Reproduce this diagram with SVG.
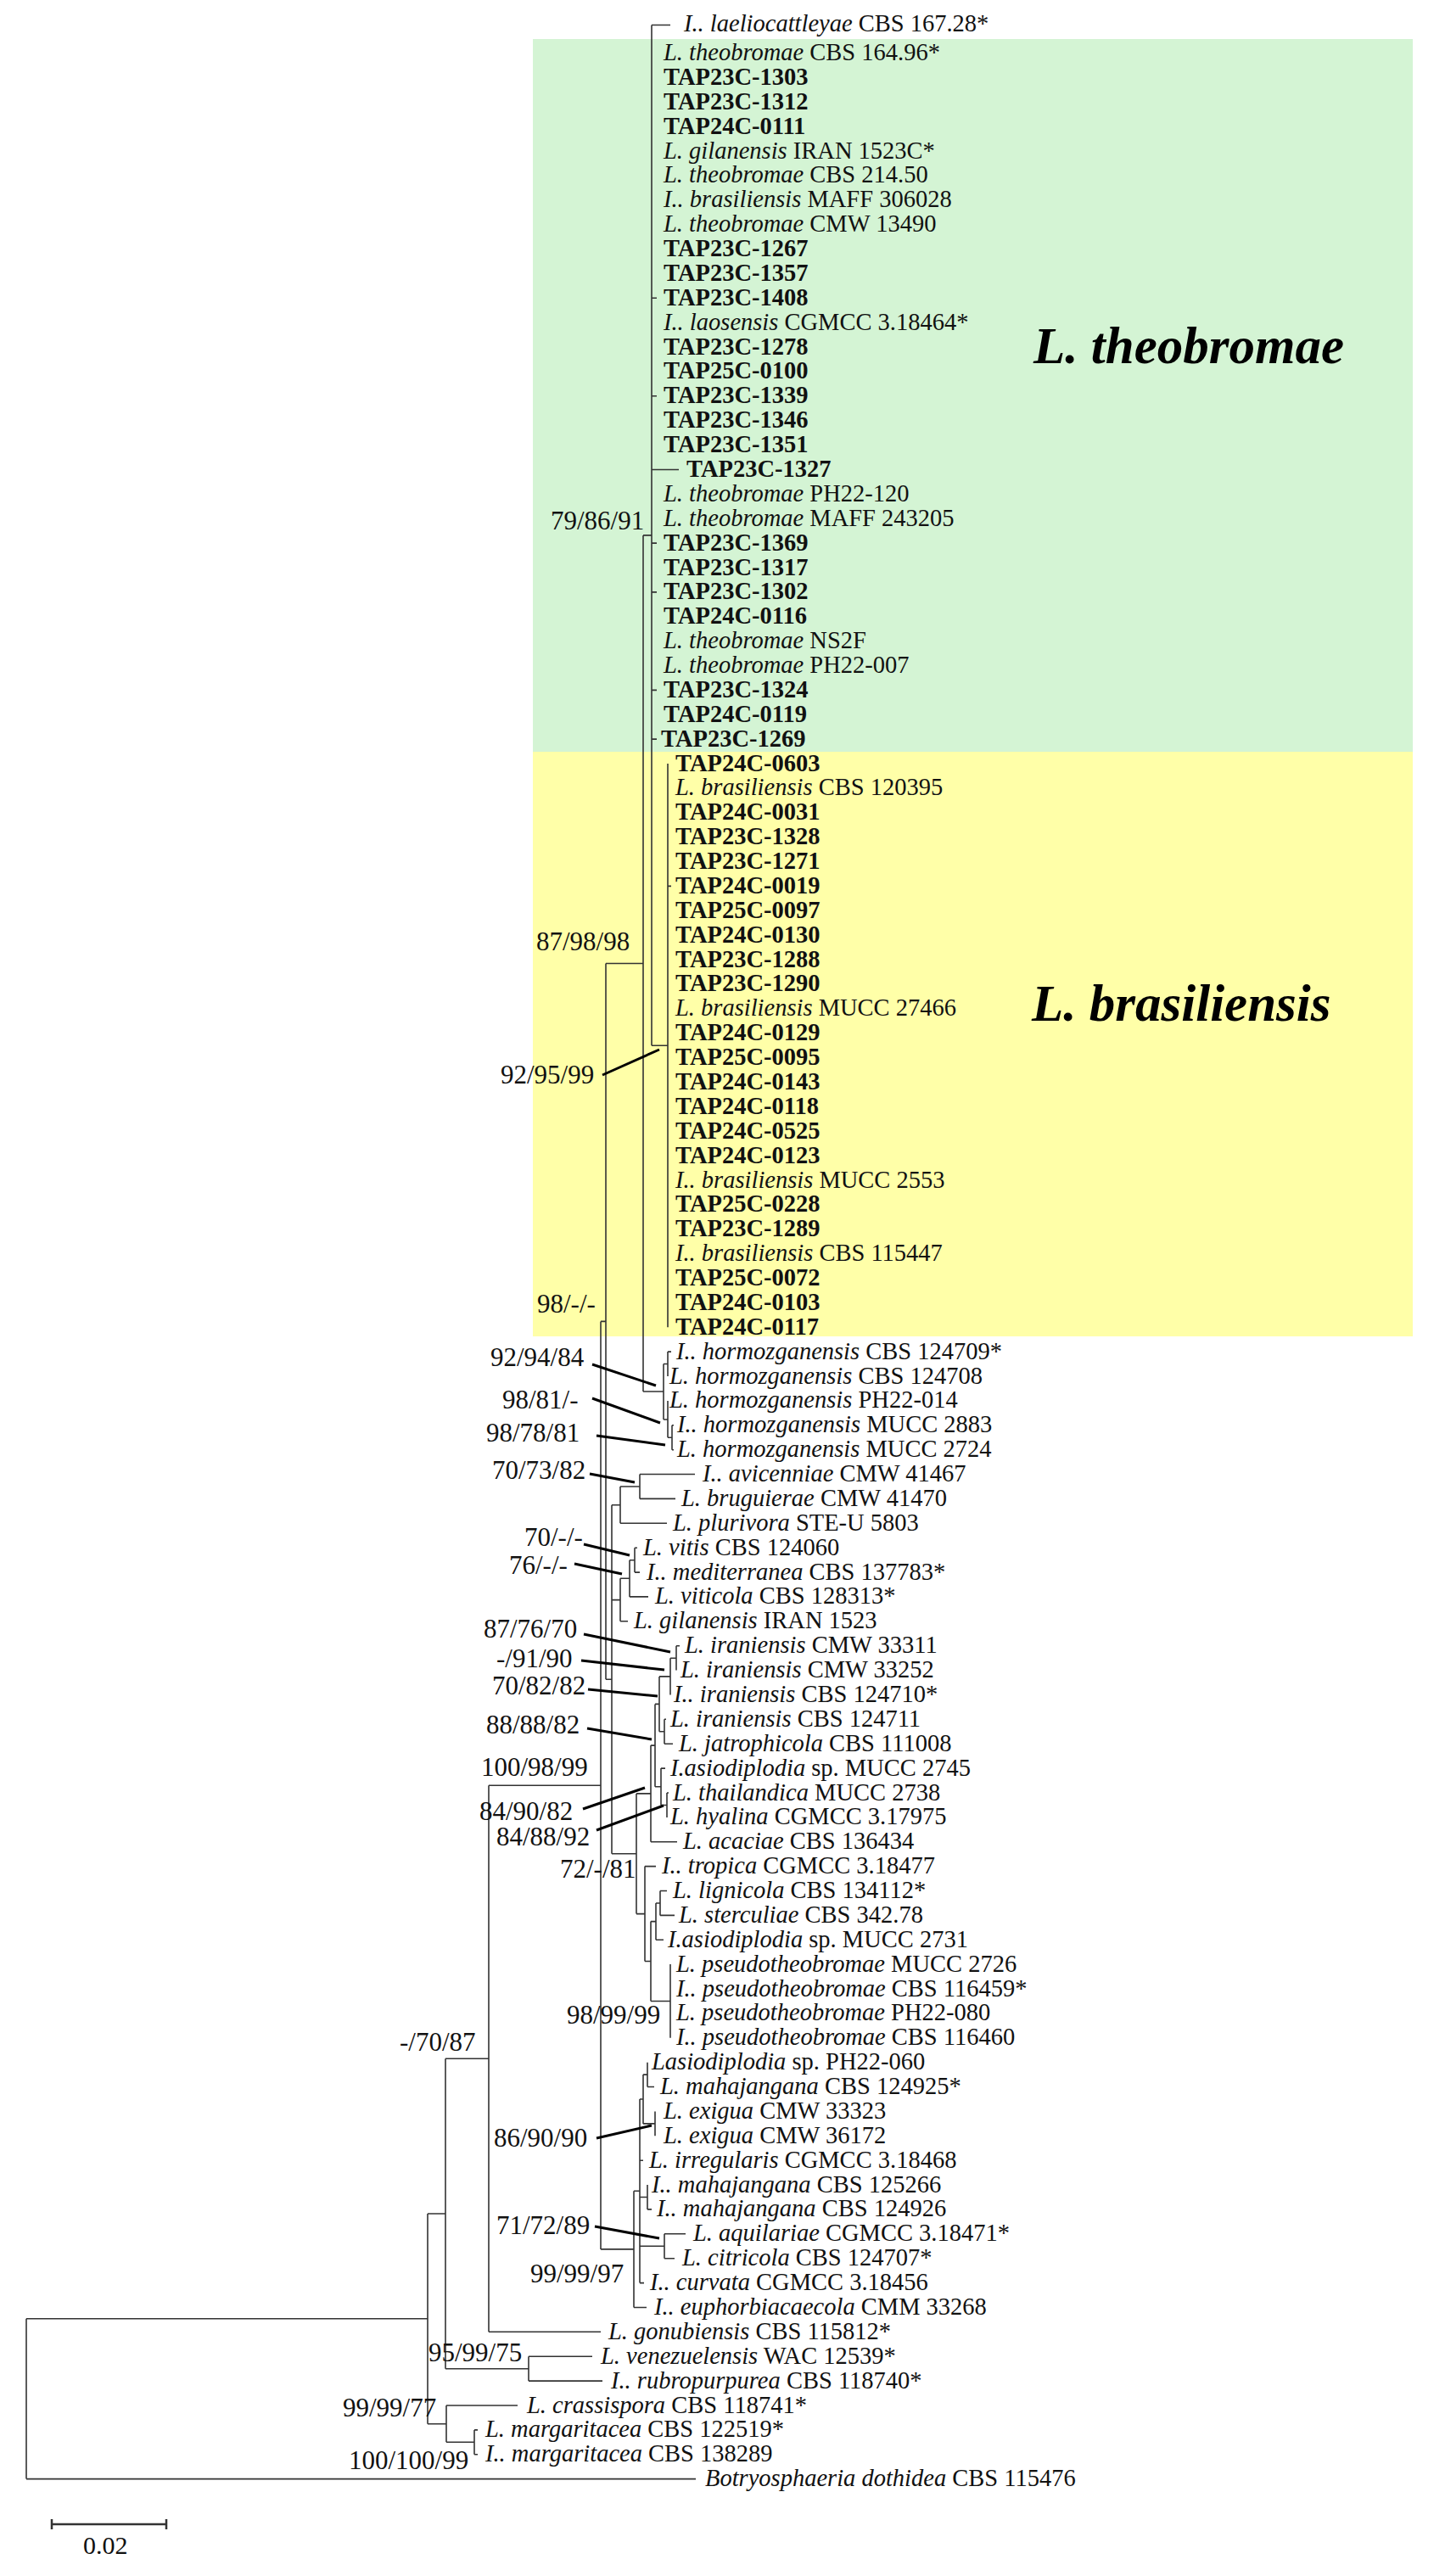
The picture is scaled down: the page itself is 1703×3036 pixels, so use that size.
<svg xmlns="http://www.w3.org/2000/svg" width="1703" height="3036" viewBox="0 0 1703 3036">
<style>
.t{font-family:"Liberation Serif","Times New Roman",serif;font-size:28.5px;fill:#111}
.b{font-weight:bold}
.i{font-style:italic}
.s{font-family:"Liberation Serif","Times New Roman",serif;font-size:31px;fill:#111}
.cl{font-family:"Liberation Serif","Times New Roman",serif;font-size:61px;font-weight:bold;font-style:italic;fill:#000}
.br{fill:none;stroke:#333;stroke-width:1.6}
.ld{fill:none;stroke:#000;stroke-width:3}
</style>
<rect width="1703" height="3036" fill="#fff"/>
<g id="clade-theobromae">
<rect x="628" y="46" width="1037" height="840" fill="#d4f4d4"/>
<text class="cl" x="1218" y="428">L. theobromae</text>
</g>
<g id="clade-brasiliensis">
<rect x="628" y="886" width="1037" height="689" fill="#ffffa8"/>
<text class="cl" x="1216" y="1203">L. brasiliensis</text>
</g>
<g id="connectors">
<path class="br" d="M768,29.5V1232.2 M768,29.5H790 M768,351.3H774 M768,466.8H774 M768,553.5H800 M768,640.1H774 M768,697.9H774 M768,813.4H774 M768,871.1H774 M768,1232.2H787 M787,900V1564.3 M787,1044.4H791 M758,630.9H768 M758,630.9V1640 M758,1640H782
M782,1607.5V1673 M782,1607.5H787 M787,1593.1V1622 M787,1593.1H791 M782,1673H787 M787,1650.9V1694.3 M787,1694.3H792 M792,1679.8V1708.7 M792,1679.8H794 M792,1708.7H794
M714,1135.5H758 M714,1135.5V1979.2 M709,1557.4H714 M714,1979.2H721
M754,1737.5V1766.4 M754,1737.5H819 M754,1766.4H796 M731,1752V1795.3 M731,1752H754 M731,1795.3H786
M748,1824.2V1853.1 M748,1824.2H751 M748,1853.1H754 M742,1838.7V1881.9 M742,1838.7H748 M742,1881.9H764 M731,1860.3V1910.8 M731,1860.3H742 M731,1910.8H740
M797,1939.7V1968.6 M797,1939.7H801 M790,1954.2V1997.5 M790,1954.2H797 M783,2026.3V2055.2 M783,2026.3H785 M783,2055.2H793 M777,1975.9V2040.8 M777,1975.9H790 M777,2040.8H783
M786,2113V2141.9 M786,2113H788 M779,2084.1V2127.5 M779,2084.1H784 M779,2127.5H786 M772,2008.4V2105.8 M772,2008.4H777 M772,2105.8H779 M767,2057.1V2170.7 M767,2057.1H772 M767,2170.7H798
M778,2228.5V2257.4 M778,2228.5H786 M778,2257.4H795 M773,2243V2286.3 M773,2243H778 M773,2286.3H782 M790,2315.1V2401.8 M767,2264.6V2358.5 M767,2264.6H773 M767,2358.5H790 M760,2199.6V2311.5 M760,2199.6H773 M760,2311.5H767 M750,2113.9V2255.6 M750,2113.9H767 M750,2255.6H760
M721,1773.7V2184.7 M721,1773.7H731 M721,1885.6H731 M721,2184.7H750
M763,2430.7V2459.5 M763,2459.5H771 M772,2488.4V2517.3 M758,2445.1V2502.9 M758,2445.1H763 M758,2502.9H772 M763,2575.1V2603.9 M763,2603.9H768 M783,2632.8V2661.7 M783,2632.8H808 M783,2661.7H795
M754,2474V2690.6 M754,2474H758 M754,2546.2H758 M754,2589.5H763 M754,2647.3H783 M754,2690.6H759 M747,2582.3V2719.5 M747,2582.3H754 M747,2719.5H762
M708,1557.4V2650.9 M708,1557.4H709 M708,2650.9H747 M576,2104.2V2748.3 M576,2104.2H708 M576,2748.3H708
M623,2777.2V2806.1 M623,2777.2H698 M623,2806.1H710 M525,2426.3V2791.7 M525,2426.3H576 M525,2791.7H623
M559,2863.9V2892.7 M559,2863.9H563 M559,2892.7H563 M526,2835V2878.3 M526,2835H610 M526,2878.3H559 M504,2609V2856.7 M504,2609H525 M504,2856.7H526
M31,2732.8V2921.6 M31,2732.8H504 M31,2921.6H820"/>
<path class="ld" d="M710,1267L777,1237 M698,1608L773,1633 M698,1648L778,1677 M703,1692L784,1703 M695,1737L748,1747 M688,1820L742,1833 M677,1843L733,1855 M688,1926L790,1947 M685,1957L783,1968 M693,1991L775,1999 M692,2037L768,2050 M687,2132L760,2107 M703,2157L782,2128 M703,2520L768,2505 M701,2624L777,2638"/>
</g>
<g id="support-labels">
<text class="s" x="649" y="624">79/86/91</text>
<text class="s" x="632" y="1120">87/98/98</text>
<text class="s" x="590" y="1277">92/95/99</text>
<text class="s" x="633" y="1547">98/-/-</text>
<text class="s" x="578" y="1610">92/94/84</text>
<text class="s" x="592" y="1660">98/81/-</text>
<text class="s" x="573" y="1699">98/78/81</text>
<text class="s" x="580" y="1743">70/73/82</text>
<text class="s" x="618" y="1822">70/-/-</text>
<text class="s" x="600" y="1855">76/-/-</text>
<text class="s" x="570" y="1930">87/76/70</text>
<text class="s" x="585" y="1965">-/91/90</text>
<text class="s" x="580" y="1997">70/82/82</text>
<text class="s" x="573" y="2043">88/88/82</text>
<text class="s" x="567" y="2093">100/98/99</text>
<text class="s" x="565" y="2145">84/90/82</text>
<text class="s" x="585" y="2175">84/88/92</text>
<text class="s" x="660" y="2213">72/-/81</text>
<text class="s" x="668" y="2385">98/99/99</text>
<text class="s" x="471" y="2417">-/70/87</text>
<text class="s" x="582" y="2530">86/90/90</text>
<text class="s" x="585" y="2633">71/72/89</text>
<text class="s" x="625" y="2690">99/99/97</text>
<text class="s" x="505" y="2783">95/99/75</text>
<text class="s" x="404" y="2848">99/99/77</text>
<text class="s" x="411" y="2910">100/100/99</text>
</g>
<g id="leaves">
<g id="leaf-001"><text class="t" x="806" y="37"><tspan class="i">I.. laeliocattleyae</tspan> CBS 167.28*</text></g>
<g id="leaf-002"><text class="t" x="782" y="71"><tspan class="i">L. theobromae</tspan> CBS 164.96*</text></g>
<g id="leaf-003"><text class="t b" x="782" y="99.9">TAP23C-1303</text></g>
<g id="leaf-004"><text class="t b" x="782" y="128.8">TAP23C-1312</text></g>
<g id="leaf-005"><text class="t b" x="782" y="157.6">TAP24C-0111</text></g>
<g id="leaf-006"><text class="t" x="782" y="186.5"><tspan class="i">L. gilanensis</tspan> IRAN 1523C*</text></g>
<g id="leaf-007"><text class="t" x="782" y="215.4"><tspan class="i">L. theobromae</tspan> CBS 214.50</text></g>
<g id="leaf-008"><text class="t" x="782" y="244.3"><tspan class="i">I.. brasiliensis</tspan> MAFF 306028</text></g>
<g id="leaf-009"><text class="t" x="782" y="273.2"><tspan class="i">L. theobromae</tspan> CMW 13490</text></g>
<g id="leaf-010"><text class="t b" x="782" y="302">TAP23C-1267</text></g>
<g id="leaf-011"><text class="t b" x="782" y="330.9">TAP23C-1357</text></g>
<g id="leaf-012"><text class="t b" x="782" y="359.8">TAP23C-1408</text></g>
<g id="leaf-013"><text class="t" x="782" y="388.7"><tspan class="i">I.. laosensis</tspan> CGMCC 3.18464*</text></g>
<g id="leaf-014"><text class="t b" x="782" y="417.6">TAP23C-1278</text></g>
<g id="leaf-015"><text class="t b" x="782" y="446.4">TAP25C-0100</text></g>
<g id="leaf-016"><text class="t b" x="782" y="475.3">TAP23C-1339</text></g>
<g id="leaf-017"><text class="t b" x="782" y="504.2">TAP23C-1346</text></g>
<g id="leaf-018"><text class="t b" x="782" y="533.1">TAP23C-1351</text></g>
<g id="leaf-019"><text class="t b" x="809" y="562">TAP23C-1327</text></g>
<g id="leaf-020"><text class="t" x="782" y="590.8"><tspan class="i">L. theobromae</tspan> PH22-120</text></g>
<g id="leaf-021"><text class="t" x="782" y="619.7"><tspan class="i">L. theobromae</tspan> MAFF 243205</text></g>
<g id="leaf-022"><text class="t b" x="782" y="648.6">TAP23C-1369</text></g>
<g id="leaf-023"><text class="t b" x="782" y="677.5">TAP23C-1317</text></g>
<g id="leaf-024"><text class="t b" x="782" y="706.4">TAP23C-1302</text></g>
<g id="leaf-025"><text class="t b" x="782" y="735.2">TAP24C-0116</text></g>
<g id="leaf-026"><text class="t" x="782" y="764.1"><tspan class="i">L. theobromae</tspan> NS2F</text></g>
<g id="leaf-027"><text class="t" x="782" y="793"><tspan class="i">L. theobromae</tspan> PH22-007</text></g>
<g id="leaf-028"><text class="t b" x="782" y="821.9">TAP23C-1324</text></g>
<g id="leaf-029"><text class="t b" x="782" y="850.8">TAP24C-0119</text></g>
<g id="leaf-030"><text class="t b" x="779" y="879.6">TAP23C-1269</text></g>
<g id="leaf-031"><text class="t b" x="796" y="908.5">TAP24C-0603</text></g>
<g id="leaf-032"><text class="t" x="796" y="937.4"><tspan class="i">L. brasiliensis</tspan> CBS 120395</text></g>
<g id="leaf-033"><text class="t b" x="796" y="966.3">TAP24C-0031</text></g>
<g id="leaf-034"><text class="t b" x="796" y="995.2">TAP23C-1328</text></g>
<g id="leaf-035"><text class="t b" x="796" y="1024">TAP23C-1271</text></g>
<g id="leaf-036"><text class="t b" x="796" y="1052.9">TAP24C-0019</text></g>
<g id="leaf-037"><text class="t b" x="796" y="1081.8">TAP25C-0097</text></g>
<g id="leaf-038"><text class="t b" x="796" y="1110.7">TAP24C-0130</text></g>
<g id="leaf-039"><text class="t b" x="796" y="1139.6">TAP23C-1288</text></g>
<g id="leaf-040"><text class="t b" x="796" y="1168.4">TAP23C-1290</text></g>
<g id="leaf-041"><text class="t" x="796" y="1197.3"><tspan class="i">L. brasiliensis</tspan> MUCC 27466</text></g>
<g id="leaf-042"><text class="t b" x="796" y="1226.2">TAP24C-0129</text></g>
<g id="leaf-043"><text class="t b" x="796" y="1255.1">TAP25C-0095</text></g>
<g id="leaf-044"><text class="t b" x="796" y="1284">TAP24C-0143</text></g>
<g id="leaf-045"><text class="t b" x="796" y="1312.8">TAP24C-0118</text></g>
<g id="leaf-046"><text class="t b" x="796" y="1341.7">TAP24C-0525</text></g>
<g id="leaf-047"><text class="t b" x="796" y="1370.6">TAP24C-0123</text></g>
<g id="leaf-048"><text class="t" x="796" y="1399.5"><tspan class="i">I.. brasiliensis</tspan> MUCC 2553</text></g>
<g id="leaf-049"><text class="t b" x="796" y="1428.4">TAP25C-0228</text></g>
<g id="leaf-050"><text class="t b" x="796" y="1457.2">TAP23C-1289</text></g>
<g id="leaf-051"><text class="t" x="796" y="1486.1"><tspan class="i">I.. brasiliensis</tspan> CBS 115447</text></g>
<g id="leaf-052"><text class="t b" x="796" y="1515">TAP25C-0072</text></g>
<g id="leaf-053"><text class="t b" x="796" y="1543.9">TAP24C-0103</text></g>
<g id="leaf-054"><text class="t b" x="796" y="1572.8">TAP24C-0117</text></g>
<g id="leaf-055"><text class="t" x="797" y="1601.6"><tspan class="i">I.. hormozganensis</tspan> CBS 124709*</text></g>
<g id="leaf-056"><text class="t" x="789" y="1630.5"><tspan class="i">L. hormozganensis</tspan> CBS 124708</text></g>
<g id="leaf-057"><text class="t" x="789" y="1659.4"><tspan class="i">L. hormozganensis</tspan> PH22-014</text></g>
<g id="leaf-058"><text class="t" x="798" y="1688.3"><tspan class="i">I.. hormozganensis</tspan> MUCC 2883</text></g>
<g id="leaf-059"><text class="t" x="798" y="1717.2"><tspan class="i">L. hormozganensis</tspan> MUCC 2724</text></g>
<g id="leaf-060"><text class="t" x="828" y="1746"><tspan class="i">I.. avicenniae</tspan> CMW 41467</text></g>
<g id="leaf-061"><text class="t" x="803" y="1774.9"><tspan class="i">L. bruguierae</tspan> CMW 41470</text></g>
<g id="leaf-062"><text class="t" x="793" y="1803.8"><tspan class="i">L. plurivora</tspan> STE-U 5803</text></g>
<g id="leaf-063"><text class="t" x="758" y="1832.7"><tspan class="i">L. vitis</tspan> CBS 124060</text></g>
<g id="leaf-064"><text class="t" x="762" y="1861.6"><tspan class="i">I.. mediterranea</tspan> CBS 137783*</text></g>
<g id="leaf-065"><text class="t" x="772" y="1890.4"><tspan class="i">L. viticola</tspan> CBS 128313*</text></g>
<g id="leaf-066"><text class="t" x="747" y="1919.3"><tspan class="i">L. gilanensis</tspan> IRAN 1523</text></g>
<g id="leaf-067"><text class="t" x="807" y="1948.2"><tspan class="i">L. iraniensis</tspan> CMW 33311</text></g>
<g id="leaf-068"><text class="t" x="802" y="1977.1"><tspan class="i">L. iraniensis</tspan> CMW 33252</text></g>
<g id="leaf-069"><text class="t" x="794" y="2006"><tspan class="i">I.. iraniensis</tspan> CBS 124710*</text></g>
<g id="leaf-070"><text class="t" x="790" y="2034.8"><tspan class="i">L. iraniensis</tspan> CBS 124711</text></g>
<g id="leaf-071"><text class="t" x="800" y="2063.7"><tspan class="i">L. jatrophicola</tspan> CBS 111008</text></g>
<g id="leaf-072"><text class="t" x="790" y="2092.6"><tspan class="i">I.asiodiplodia</tspan> sp. MUCC 2745</text></g>
<g id="leaf-073"><text class="t" x="793" y="2121.5"><tspan class="i">L. thailandica</tspan> MUCC 2738</text></g>
<g id="leaf-074"><text class="t" x="790" y="2150.4"><tspan class="i">L. hyalina</tspan> CGMCC 3.17975</text></g>
<g id="leaf-075"><text class="t" x="805" y="2179.2"><tspan class="i">L. acaciae</tspan> CBS 136434</text></g>
<g id="leaf-076"><text class="t" x="780" y="2208.1"><tspan class="i">I.. tropica</tspan> CGMCC 3.18477</text></g>
<g id="leaf-077"><text class="t" x="793" y="2237"><tspan class="i">L. lignicola</tspan> CBS 134112*</text></g>
<g id="leaf-078"><text class="t" x="800" y="2265.9"><tspan class="i">L. sterculiae</tspan> CBS 342.78</text></g>
<g id="leaf-079"><text class="t" x="787" y="2294.8"><tspan class="i">I.asiodiplodia</tspan> sp. MUCC 2731</text></g>
<g id="leaf-080"><text class="t" x="797" y="2323.6"><tspan class="i">L. pseudotheobromae</tspan> MUCC 2726</text></g>
<g id="leaf-081"><text class="t" x="797" y="2352.5"><tspan class="i">I.. pseudotheobromae</tspan> CBS 116459*</text></g>
<g id="leaf-082"><text class="t" x="797" y="2381.4"><tspan class="i">L. pseudotheobromae</tspan> PH22-080</text></g>
<g id="leaf-083"><text class="t" x="797" y="2410.3"><tspan class="i">I.. pseudotheobromae</tspan> CBS 116460</text></g>
<g id="leaf-084"><text class="t" x="768" y="2439.2"><tspan class="i">Lasiodiplodia</tspan> sp. PH22-060</text></g>
<g id="leaf-085"><text class="t" x="778" y="2468"><tspan class="i">L. mahajangana</tspan> CBS 124925*</text></g>
<g id="leaf-086"><text class="t" x="782" y="2496.9"><tspan class="i">L. exigua</tspan> CMW 33323</text></g>
<g id="leaf-087"><text class="t" x="782" y="2525.8"><tspan class="i">L. exigua</tspan> CMW 36172</text></g>
<g id="leaf-088"><text class="t" x="765" y="2554.7"><tspan class="i">L. irregularis</tspan> CGMCC 3.18468</text></g>
<g id="leaf-089"><text class="t" x="768" y="2583.6"><tspan class="i">I.. mahajangana</tspan> CBS 125266</text></g>
<g id="leaf-090"><text class="t" x="774" y="2612.4"><tspan class="i">I.. mahajangana</tspan> CBS 124926</text></g>
<g id="leaf-091"><text class="t" x="817" y="2641.3"><tspan class="i">L. aquilariae</tspan> CGMCC 3.18471*</text></g>
<g id="leaf-092"><text class="t" x="804" y="2670.2"><tspan class="i">L. citricola</tspan> CBS 124707*</text></g>
<g id="leaf-093"><text class="t" x="766" y="2699.1"><tspan class="i">I.. curvata</tspan> CGMCC 3.18456</text></g>
<g id="leaf-094"><text class="t" x="771" y="2728"><tspan class="i">I.. euphorbiacaecola</tspan> CMM 33268</text></g>
<g id="leaf-095"><text class="t" x="717" y="2756.8"><tspan class="i">L. gonubiensis</tspan> CBS 115812*</text></g>
<g id="leaf-096"><text class="t" x="708" y="2785.7"><tspan class="i">L. venezuelensis</tspan> WAC 12539*</text></g>
<g id="leaf-097"><text class="t" x="720" y="2814.6"><tspan class="i">I.. rubropurpurea</tspan> CBS 118740*</text></g>
<g id="leaf-098"><text class="t" x="621" y="2843.5"><tspan class="i">L. crassispora</tspan> CBS 118741*</text></g>
<g id="leaf-099"><text class="t" x="572" y="2872.4"><tspan class="i">L. margaritacea</tspan> CBS 122519*</text></g>
<g id="leaf-100"><text class="t" x="572" y="2901.2"><tspan class="i">I.. margaritacea</tspan> CBS 138289</text></g>
<g id="leaf-101"><text class="t" x="831" y="2930.1"><tspan class="i">Botryosphaeria dothidea</tspan> CBS 115476</text></g>
</g>
<g id="scale-bar">
<path class="br" d="M61,2975H196 M61,2969V2981 M196,2969V2981" style="stroke-width:2.5"/>
<text class="s" x="98" y="3010" style="font-size:30px">0.02</text>
</g>
</svg>
